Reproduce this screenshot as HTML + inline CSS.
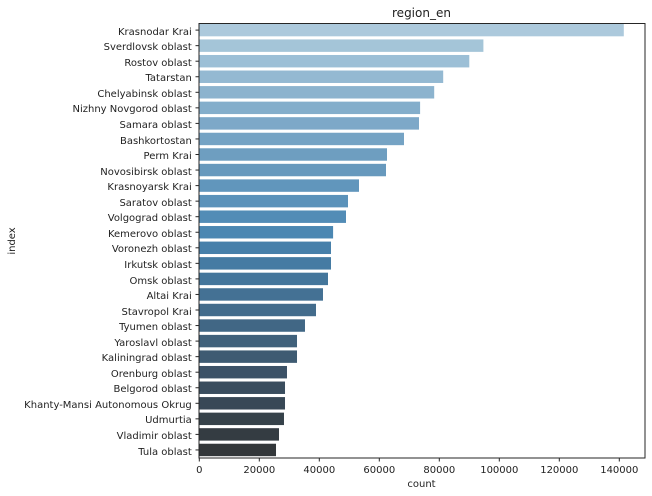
<!DOCTYPE html>
<html lang="en">
<head>
<meta charset="utf-8">
<title>region_en</title>
<style>
html,body{margin:0;padding:0;background:#fff;width:652px;height:496px;overflow:hidden}
svg{display:block}
text{font-family:"DejaVu Sans","Liberation Sans",sans-serif;font-size:10px;fill:#1f1f1f}
</style>
</head>
<body>
<svg id="chart" width="652" height="496" viewBox="0 0 652 496" xmlns="http://www.w3.org/2000/svg">
<g id="bars"></g>
<g id="yticks"></g>
<g id="xticks"></g>
<rect x="199" y="23.5" width="446" height="434.5" fill="none" stroke="#262626" stroke-width="1"/>
<text x="421.5" y="17" text-anchor="middle" style="font-size:12px">region_en</text>
<text x="421.5" y="487" text-anchor="middle">count</text>
<text transform="translate(15 241) rotate(-90)" text-anchor="middle">index</text>
</svg>
<script>
const categories = ["Krasnodar Krai","Sverdlovsk oblast","Rostov oblast","Tatarstan","Chelyabinsk oblast","Nizhny Novgorod oblast","Samara oblast","Bashkortostan","Perm Krai","Novosibirsk oblast","Krasnoyarsk Krai","Saratov oblast","Volgograd oblast","Kemerovo oblast","Voronezh oblast","Irkutsk oblast","Omsk oblast","Altai Krai","Stavropol Krai","Tyumen oblast","Yaroslavl oblast","Kaliningrad oblast","Orenburg oblast","Belgorod oblast","Khanty-Mansi Autonomous Okrug","Udmurtia","Vladimir oblast","Tula oblast"];
const counts = [141500,94700,90000,81300,78300,73600,73233,68233,62567,62233,53233,49567,48900,44600,43900,43900,42900,41230,38900,35230,32570,32570,29230,28570,28570,28230,26570,25570];
const barColors = ["#acc9dc","#a4c5d8","#9cbfd6","#94b9d2","#8cb3ce","#84aecb","#7da8c8","#75a3c4","#6e9ec0","#6799bd","#6196bc","#5b92ba","#528cb6","#4b87b2","#4780aa","#457ba3","#44769b","#447194","#436c8c","#416785","#40617b","#3e5b72","#3c5267","#3a4d5e","#384856","#36424a","#343c42","#33373a"];
const xTickValues = [0,20000,40000,60000,80000,100000,120000,140000];

const NS = "http://www.w3.org/2000/svg";
const X0 = 199.3, X_PER_UNIT = 0.003, Y0 = 30.1, BAND = 15.55, BAR_H = 12.44;
function xScale(v){ return X0 + v * X_PER_UNIT; }
function yScale(i){ return Y0 + i * BAND; }
function make(tag, attrs, parent){
  const el = document.createElementNS(NS, tag);
  for (const k in attrs) el.setAttribute(k, attrs[k]);
  parent.appendChild(el);
  return el;
}
const barsG = document.getElementById("bars");
const yG = document.getElementById("yticks");
const xG = document.getElementById("xticks");

categories.forEach(function(cat, i){
  const bar = make("rect", {x: X0, y: yScale(i) - BAR_H / 2, width: xScale(counts[i]) - X0, height: BAR_H, fill: barColors[i]}, barsG);
  
  
  const tick = make("line", {x1: 195.5, x2: 199, y1: yScale(i), y2: yScale(i), stroke: "#262626", "stroke-width": 1}, yG);
  
  
  const label = make("text", {x: 191.8, y: Math.round(yScale(i) + 4.6), "text-anchor": "end"}, yG);
  label.textContent = cat;
  
  
});

xTickValues.forEach(function(v){
  const tick = make("line", {x1: xScale(v), x2: xScale(v), y1: 458, y2: 461.5, stroke: "#262626", "stroke-width": 1}, xG);
  
  
  const label = make("text", {x: xScale(v), y: 473, "text-anchor": "middle"}, xG);
  label.textContent = String(v);
  
  
});
</script>
</body>
</html>
